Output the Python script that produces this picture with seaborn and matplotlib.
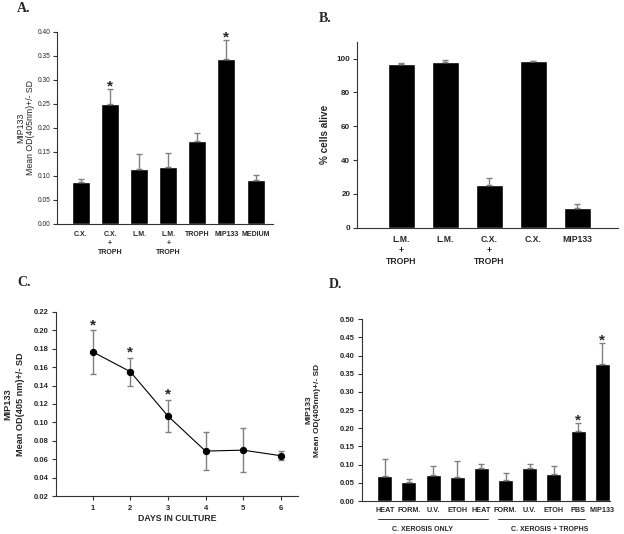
import numpy as np
import pandas as pd
import seaborn as sns
import matplotlib
matplotlib.use("Agg")
import matplotlib.pyplot as plt
from matplotlib import font_manager
import matplotlib.transforms as mtransforms

# ---------------- data ----------------
a_labels = ["C.X.", "C.X.\n+\nTROPH", "L.M.", "L.M.\n+\nTROPH", "TROPH", "MIP133", "MEDIUM"]
a_means = [0.087, 0.249, 0.114, 0.118, 0.172, 0.343, 0.091]
a_sd = [0.006, 0.032, 0.032, 0.029, 0.017, 0.040, 0.010]
a_star = [False, True, False, False, False, True, False]

b_labels = ["L.M.\n+\nTROPH", "L.M.", "C.X.\n+\nTROPH", "C.X.", "MIP133"]
b_means = [96.9, 98.0, 25.2, 98.4, 11.6]
b_sd = [0.7, 1.4, 4.1, 0.3, 2.4]

c_days = [1, 2, 3, 4, 5, 6]
c_means = [0.1765, 0.155, 0.107, 0.069, 0.070, 0.064]
c_sd = [0.0235, 0.015, 0.0175, 0.0205, 0.0235, 0.005]
c_star = [True, True, True, False, False, False]

d_labels = ["HEAT", "FORM.", "U.V.", "ETOH", "HEAT", "FORM.", "U.V.", "ETOH", "PBS", "MIP133"]
d_groups = ["C. XEROSIS ONLY"] * 5 + ["C. XEROSIS + TROPHS"] * 5
d_means = [0.0687, 0.053, 0.071, 0.065, 0.0907, 0.058, 0.0907, 0.073, 0.193, 0.376]
d_sd = [0.048, 0.007, 0.026, 0.045, 0.010, 0.020, 0.010, 0.022, 0.022, 0.059]
d_star = [False] * 8 + [True, True]

# ---------------- style ----------------
sns.set_style("ticks")
installed = {f.name for f in font_manager.fontManager.ttflist}
has_narrow = "Liberation Sans Narrow" in installed
narrow = "Liberation Sans Narrow" if has_narrow else "Liberation Sans"
plt.rcParams["font.family"] = ["Liberation Sans", "DejaVu Sans"]
plt.rcParams["axes.linewidth"] = 0.8
plt.rcParams["axes.edgecolor"] = "#333333"

W, H = 624, 534
fig = plt.figure(figsize=(W / 100, H / 100), dpi=100)


def add_ax(left, right, top, bottom):
    return fig.add_axes([left / W, (H - bottom) / H, (right - left) / W, (bottom - top) / H])


ERRC = "#808080"


def style_axes(ax):
    sns.despine(ax=ax)
    ax.tick_params(axis="y", direction="out", length=3, width=0.8, color="#333333", pad=2)
    ax.tick_params(axis="x", length=0, pad=5)


# ---------------- panel A ----------------
axA = add_ax(57.3, 273, 31.7, 224)
dfA = pd.DataFrame({"key": [f"a{i}" for i in range(len(a_labels))], "val": a_means})
sns.barplot(data=dfA, x="key", y="val", color="black", width=0.62, saturation=1,
            errorbar=None, ax=axA)
xA = np.arange(len(a_labels))
axA.errorbar(xA, a_means, yerr=[np.zeros(len(a_sd)), a_sd], fmt="none",
             ecolor=ERRC, elinewidth=1, capsize=2.5, capthick=1, zorder=1)
for i, s in enumerate(a_star):
    if s:
        axA.annotate("*", (i, a_means[i] + a_sd[i]), xytext=(0, -3.5), textcoords="offset points",
                     ha="center", va="bottom", fontsize=11, fontweight="bold")
axA.set_xlim(-0.815, 6.6)
axA.set_ylim(0, 0.40)
axA.set_yticks(np.arange(0, 0.401, 0.05))
axA.set_yticklabels([f"{v:.2f}" for v in np.arange(0, 0.401, 0.05)], family=[narrow],
                    fontsize=5.5 if has_narrow else 4.8)
axA.set_xticks(xA)
axA.set_xticklabels(a_labels, family=[narrow], fontsize=6 if has_narrow else 5.0,
                    fontweight="bold", linespacing=1.45)
axA.set_xlabel("")
axA.set_ylabel("MIP133\nMean OD(405nm)+/- SD", fontsize=6.3, linespacing=1.05)
axA.yaxis.set_label_coords(-0.103, 0.5)
style_axes(axA)

# ---------------- panel B ----------------
axB = add_ax(357.3, 618, 41.7, 227.7)
dfB = pd.DataFrame({"key": [f"b{i}" for i in range(len(b_labels))], "val": b_means})
sns.barplot(data=dfB, x="key", y="val", color="black", width=0.61, saturation=1,
            errorbar=None, ax=axB)
xB = np.arange(len(b_labels))
axB.errorbar(xB, b_means, yerr=[np.zeros(len(b_sd)), b_sd], fmt="none",
             ecolor=ERRC, elinewidth=1, capsize=2.5, capthick=1, zorder=1)
axB.set_xlim(-1.006, 4.93)
axB.set_ylim(0, 110)
axB.set_yticks(range(0, 101, 20))
axB.set_yticklabels([str(v) for v in range(0, 101, 20)], fontsize=5.8, fontweight="bold")
axB.set_xticks(xB)
axB.set_xticklabels(b_labels, fontsize=6.2, fontweight="bold", linespacing=1.3)
axB.set_xlabel("")
axB.set_ylabel("% cells alive", fontsize=7.2, fontweight="bold")
axB.yaxis.set_label_coords(-0.105, 0.5)
style_axes(axB)

# ---------------- panel C ----------------
axC = add_ax(55.7, 298, 311.7, 496.3)
dfC = pd.DataFrame({"day": c_days, "val": c_means})
axC.errorbar(c_days, c_means, yerr=c_sd, fmt="none", ecolor=ERRC, elinewidth=1,
             capsize=2.5, capthick=1, zorder=1)
sns.lineplot(data=dfC, x="day", y="val", color="black", linewidth=0.8, marker="o",
             markersize=4.5, markeredgecolor="black", ax=axC, zorder=3)
for i, s in enumerate(c_star):
    if s:
        axC.annotate("*", (c_days[i], c_means[i] + c_sd[i]), xytext=(0, -1.5), textcoords="offset points",
                     ha="center", va="bottom", fontsize=11, fontweight="bold")
axC.set_xlim(0.016, 6.46)
axC.set_ylim(0.02, 0.22)
yC = np.arange(0.02, 0.2201, 0.02)
axC.set_yticks(yC)
axC.set_yticklabels([f"{v:.2f}" for v in yC], fontsize=5.5, fontweight="bold")
axC.set_xticks(c_days)
axC.set_xticklabels([str(d) for d in c_days], fontsize=5.5, fontweight="bold")
axC.set_xlabel("DAYS IN CULTURE", fontsize=6.3, fontweight="bold", labelpad=2)
axC.set_ylabel("MIP133\nMean OD(405 nm)+/- SD", fontsize=6.6, fontweight="bold", linespacing=1.6)
axC.yaxis.set_label_coords(-0.125, 0.5)
style_axes(axC)
axC.tick_params(axis="x", direction="out", length=3, width=0.8, color="#333333", pad=3)

# ---------------- panel D ----------------
axD = add_ax(362, 610, 319.3, 501)
dfD = pd.DataFrame({"key": [f"d{i}" for i in range(len(d_labels))], "val": d_means, "grp": d_groups})
sns.barplot(data=dfD, x="key", y="val", color="black", width=0.62, saturation=1,
            errorbar=None, ax=axD)
xD = np.arange(len(d_labels))
axD.errorbar(xD, d_means, yerr=[np.zeros(len(d_sd)), d_sd], fmt="none",
             ecolor=ERRC, elinewidth=1, capsize=2.5, capthick=1, zorder=1)
for i, s in enumerate(d_star):
    if s:
        axD.annotate("*", (i, d_means[i] + d_sd[i]), xytext=(0, -3.5), textcoords="offset points",
                     ha="center", va="bottom", fontsize=11, fontweight="bold")
axD.set_xlim(-0.943, 9.32)
axD.set_ylim(0, 0.50)
yD = np.arange(0, 0.501, 0.05)
axD.set_yticks(yD)
axD.set_yticklabels([f"{v:.2f}" for v in yD], fontsize=5.5, fontweight="bold")
axD.set_xticks(xD)
axD.set_xticklabels(d_labels, fontsize=5.2, fontweight="bold")
axD.set_xlabel("")
axD.set_ylabel("MIP133\nMean OD(405nm)+/- SD", fontsize=6, fontweight="bold", linespacing=1.3)
axD.yaxis.set_label_coords(-0.165, 0.5)
style_axes(axD)
axD.tick_params(axis="x", pad=4)

# group lines and labels under panel D
trD = mtransforms.blended_transform_factory(axD.transData, axD.transAxes)
groups = list(dict.fromkeys(d_groups))
spans = [(-0.29, 4.26), (4.67, 8.29)]
label_x = [1.56, 6.83]
for g, (x0, x1), lx in zip(groups, spans, label_x):
    axD.plot([x0, x1], [-0.10, -0.10], color="#333333", linewidth=0.7, transform=trD, clip_on=False)
    axD.text(lx, -0.155, g, transform=trD, ha="center", va="center", fontsize=5, fontweight="bold")

# ---------------- panel letters ----------------
for letter, x, y in [("A.", 17, 9), ("B.", 319, 18), ("C.", 17, 282), ("D.", 329, 284)]:
    fig.text(x / W, 1 - y / H, letter, ha="left", va="center", fontsize=10, fontweight="bold",
             family=["Liberation Serif", "DejaVu Serif"])

fig.savefig("out.png", dpi=100)
